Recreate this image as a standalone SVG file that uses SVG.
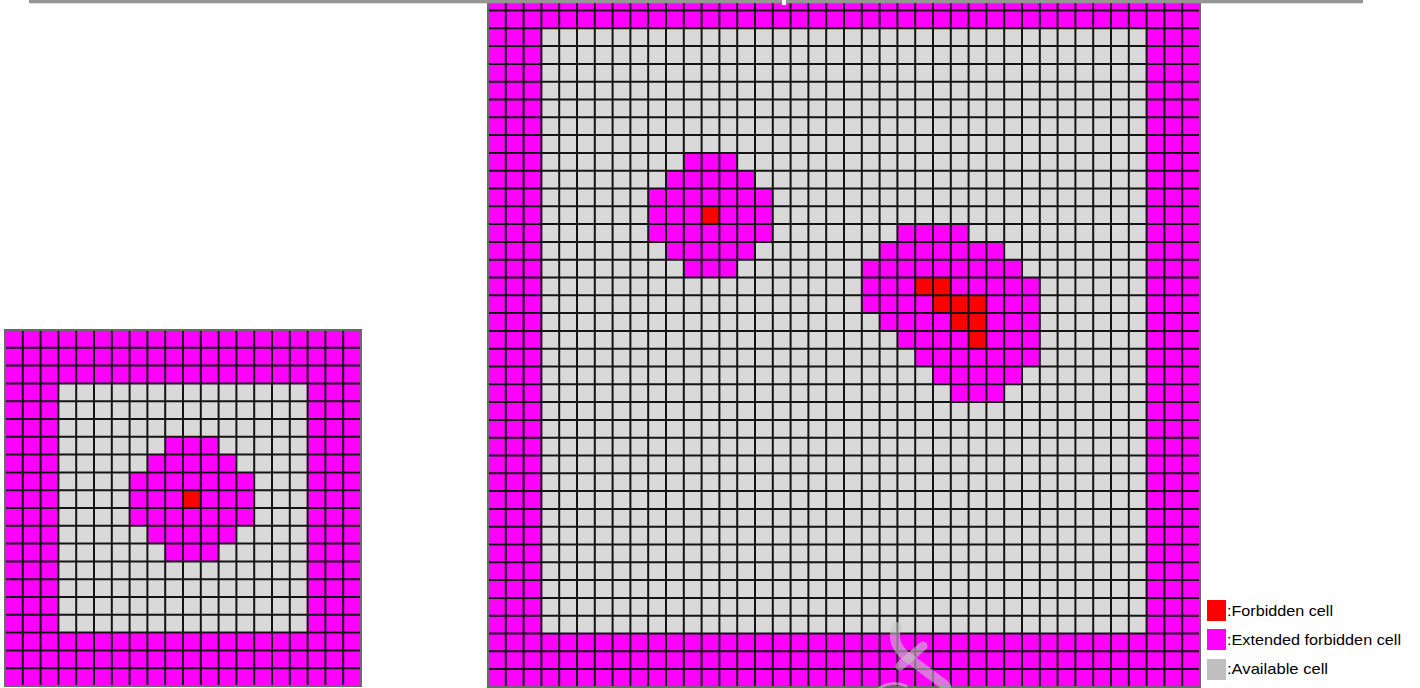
<svg xmlns="http://www.w3.org/2000/svg" width="1420" height="688" viewBox="0 0 1420 688">
<style>
.mag{fill:#FF00FF}
.avail{fill:#D9D9D9}
.forb{fill:#FF0000}
.lines{fill:none;stroke:#141414;stroke-width:2;vector-effect:non-scaling-stroke}
.edge{fill:none;stroke:#6a6a6a;stroke-width:2;vector-effect:non-scaling-stroke}
.lbl{font-family:"Liberation Sans",Arial,sans-serif;font-size:15px;fill:#000}
</style>
<rect x="0" y="0" width="1420" height="688" fill="#FFFFFF"/>
<g id="small-grid" transform="translate(5,330) scale(17.8)">
<rect class="mag" x="0" y="0" width="20" height="20"/>
<rect class="avail" x="3" y="3" width="14" height="14"/>
<rect class="mag" x="9" y="6" width="3" height="1"/>
<rect class="mag" x="8" y="7" width="5" height="1"/>
<rect class="mag" x="7" y="8" width="7" height="3"/>
<rect class="mag" x="8" y="11" width="5" height="1"/>
<rect class="mag" x="9" y="12" width="3" height="1"/>
<rect class="forb" x="10" y="9" width="1" height="1"/>
<path class="lines" d="M0 0V20M1 0V20M2 0V20M3 0V20M4 0V20M5 0V20M6 0V20M7 0V20M8 0V20M9 0V20M10 0V20M11 0V20M12 0V20M13 0V20M14 0V20M15 0V20M16 0V20M17 0V20M18 0V20M19 0V20M20 0V20M0 0H20M0 1H20M0 2H20M0 3H20M0 4H20M0 5H20M0 6H20M0 7H20M0 8H20M0 9H20M0 10H20M0 11H20M0 12H20M0 13H20M0 14H20M0 15H20M0 16H20M0 17H20M0 18H20M0 19H20M0 20H20"/>
<rect class="edge" x="0" y="0" width="20" height="20"/>
</g>
<g id="large-grid" transform="translate(488,-25.1) scale(17.8)">
<rect class="mag" x="0" y="0" width="40" height="40"/>
<rect class="avail" x="3" y="3" width="34" height="34"/>
<g id="blob-1">
<rect class="mag" x="11" y="10" width="3" height="1"/>
<rect class="mag" x="10" y="11" width="5" height="1"/>
<rect class="mag" x="9" y="12" width="7" height="3"/>
<rect class="mag" x="10" y="15" width="5" height="1"/>
<rect class="mag" x="11" y="16" width="3" height="1"/>
<rect class="forb" x="12" y="13" width="1" height="1"/>
</g>
<g id="blob-2">
<rect class="mag" x="23" y="14" width="4" height="1"/>
<rect class="mag" x="22" y="15" width="7" height="1"/>
<rect class="mag" x="21" y="16" width="9" height="1"/>
<rect class="mag" x="21" y="17" width="10" height="2"/>
<rect class="mag" x="22" y="19" width="9" height="1"/>
<rect class="mag" x="23" y="20" width="8" height="1"/>
<rect class="mag" x="24" y="21" width="7" height="1"/>
<rect class="mag" x="25" y="22" width="5" height="1"/>
<rect class="mag" x="26" y="23" width="3" height="1"/>
<rect class="forb" x="24" y="17" width="2" height="1"/>
<rect class="forb" x="25" y="18" width="3" height="1"/>
<rect class="forb" x="26" y="19" width="2" height="1"/>
<rect class="forb" x="27" y="20" width="1" height="1"/>
</g>
<path class="lines" d="M0 0V40M1 0V40M2 0V40M3 0V40M4 0V40M5 0V40M6 0V40M7 0V40M8 0V40M9 0V40M10 0V40M11 0V40M12 0V40M13 0V40M14 0V40M15 0V40M16 0V40M17 0V40M18 0V40M19 0V40M20 0V40M21 0V40M22 0V40M23 0V40M24 0V40M25 0V40M26 0V40M27 0V40M28 0V40M29 0V40M30 0V40M31 0V40M32 0V40M33 0V40M34 0V40M35 0V40M36 0V40M37 0V40M38 0V40M39 0V40M40 0V40M0 0H40M0 1H40M0 2H40M0 3H40M0 4H40M0 5H40M0 6H40M0 7H40M0 8H40M0 9H40M0 10H40M0 11H40M0 12H40M0 13H40M0 14H40M0 15H40M0 16H40M0 17H40M0 18H40M0 19H40M0 20H40M0 21H40M0 22H40M0 23H40M0 24H40M0 25H40M0 26H40M0 27H40M0 28H40M0 29H40M0 30H40M0 31H40M0 32H40M0 33H40M0 34H40M0 35H40M0 36H40M0 37H40M0 38H40M0 39H40M0 40H40"/>
<rect class="edge" x="0" y="0" width="40" height="40"/>
</g>
<g id="watermark" fill="none" stroke="#C4C4C4" stroke-opacity="0.6" stroke-linecap="round">
<path d="M897 627 C892 638 896 650 910 659 L946 686" stroke-width="10"/>
<path d="M900 666 L923 646" stroke-width="9"/>
<path d="M880 688 C886 683 898 682 906 686" stroke-width="3"/>
</g>
<rect id="top-bar" x="29" y="0" width="1334" height="3.3" fill="#959595"/>
<rect x="782" y="0" width="4" height="5" fill="#FFFFFF"/>
<g id="legend">
<rect class="forb" x="1207" y="600" width="19" height="21"/>
<text class="lbl" x="1227" y="615.5" textLength="106" lengthAdjust="spacingAndGlyphs">:Forbidden cell</text>
<rect class="mag" x="1207" y="629" width="19" height="21"/>
<text class="lbl" x="1227" y="645" textLength="174" lengthAdjust="spacingAndGlyphs">:Extended forbidden cell</text>
<rect x="1207" y="659" width="19" height="21" fill="#BFBFBF"/>
<text class="lbl" x="1227" y="674" textLength="101" lengthAdjust="spacingAndGlyphs">:Available cell</text>
</g>
</svg>
